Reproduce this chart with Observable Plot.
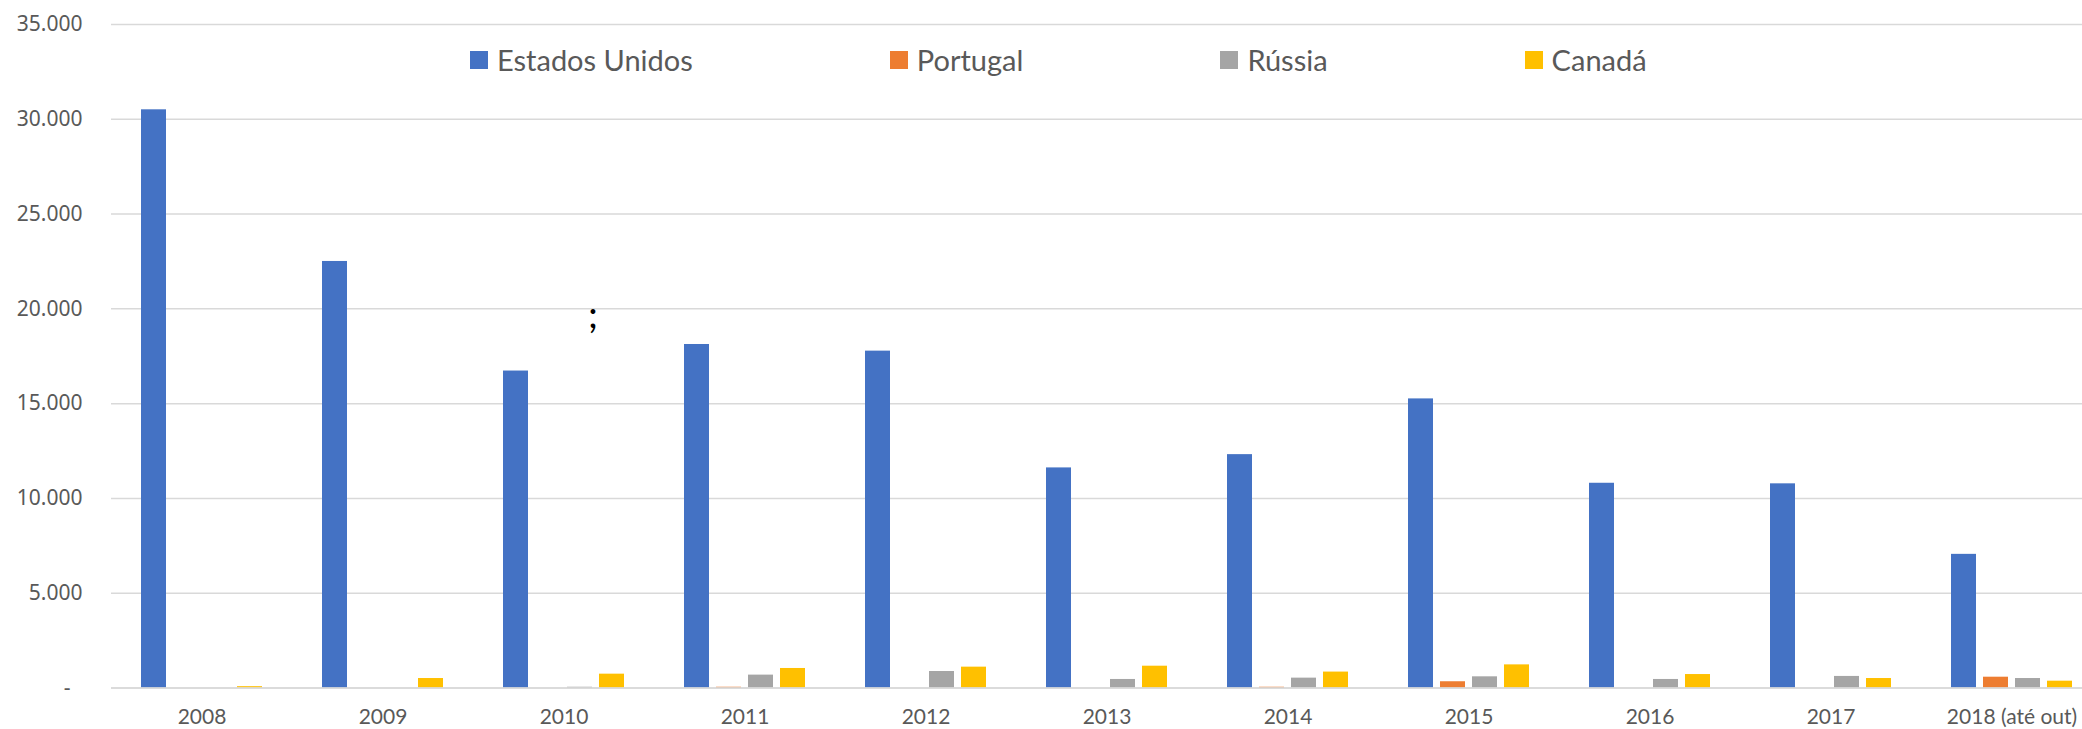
<!DOCTYPE html>
<html>
<head>
<meta charset="utf-8">
<script src="https://cdn.jsdelivr.net/npm/d3@7"></script>
<script src="https://cdn.jsdelivr.net/npm/@observablehq/plot@0.6"></script>
<style>
  html, body { margin: 0; padding: 0; background: #ffffff; overflow: hidden; }
  #wrap { position: relative; width: 2082px; height: 729px; overflow: hidden; background: #fff; }
  #wrap svg { max-width: none !important; }
  #legend { position: absolute; left: 470px; top: 42px; height: 35px; display: flex; align-items: center; gap: 197px;
            font-family: Lato, "Open Sans", sans-serif; font-size: 29px; color: #595959; white-space: nowrap; }
  #legend .item { display: flex; align-items: center; }
  #legend .sw { width: 18px; height: 18px; margin-right: 9px; }
  #note { position: absolute; left: 588px; top: 294px; font-family: Lato, sans-serif; font-size: 38px; line-height: 1; color: #000; }
  g[aria-label="y-axis tick label"] { font-family: "Noto Sans", sans-serif; font-size: 21px; }
  g[aria-label="fx-axis tick label"] { font-family: Lato, sans-serif; font-size: 21px; }
</style>
</head>
<body>
<div id="wrap">
  <div id="chart"></div>
  <div id="legend"></div>
  <div id="note">;</div>
</div>
<script>
const years = ["2008", "2009", "2010", "2011", "2012", "2013", "2014", "2015", "2016", "2017", "2018 (até out)"];
const seriesNames = ["Estados Unidos", "Portugal", "Rússia", "Canadá"];
const estadosUnidos = [30500, 22500, 16720, 18120, 17770, 11610, 12310, 15250, 10800, 10770, 7050];
const portugal = [0, 0, 0, 40, 0, 0, 40, 330, 0, 0, 570];
const russia = [0, 0, 40, 680, 870, 450, 520, 590, 450, 610, 500];
const canada = [70, 500, 730, 1030, 1100, 1150, 840, 1220, 710, 500, 360];
const seriesColors = ["#4472C4", "#ED7D31", "#A5A5A5", "#FFC000"];
const yTicks = [0, 5000, 10000, 15000, 20000, 25000, 30000, 35000];

const seriesValues = [estadosUnidos, portugal, russia, canada];
const data = years.flatMap((year, i) =>
  seriesNames.map((s, j) => ({year, series: s, value: seriesValues[j][i]}))
);

const fmt = d => d === 0 ? "-\u2007" : d3.format(",")(d).replace(/,/g, ".");

const chart = Plot.plot({
  width: 2102,
  height: 729,
  marginLeft: 111,
  marginRight: 0,
  marginTop: 24,
  marginBottom: 41.5,
  style: {fontFamily: "Lato, sans-serif", fontSize: "21px", color: "#595959", background: "#ffffff"},
  fx: {domain: years, padding: 0, axis: "bottom", tickSize: 0, tickPadding: 21.5, label: null},
  x: {domain: seriesNames, paddingInner: 0.22, paddingOuter: 0.86, axis: null},
  y: {domain: [0, 35000], ticks: yTicks, tickFormat: fmt, tickSize: 0, tickPadding: 29, label: null, grid: false},
  color: {domain: seriesNames, range: seriesColors},
  marks: [
    Plot.gridY(yTicks, {stroke: "#d9d9d9", strokeOpacity: 1, strokeWidth: 1.5}),
    Plot.barY(data, {fx: "year", x: "series", y: "value", fill: "series"}),
    Plot.ruleY([0], {stroke: "#d9d9d9", strokeWidth: 1.5})
  ]
});
document.getElementById("chart").appendChild(chart);

const legend = document.getElementById("legend");
seriesNames.forEach((s, j) => {
  const item = document.createElement("div");
  item.className = "item";
  const sw = document.createElement("span");
  sw.className = "sw";
  sw.style.background = seriesColors[j];
  const label = document.createElement("span");
  label.textContent = s;
  item.appendChild(sw);
  item.appendChild(label);
  legend.appendChild(item);
});
</script>
</body>
</html>
